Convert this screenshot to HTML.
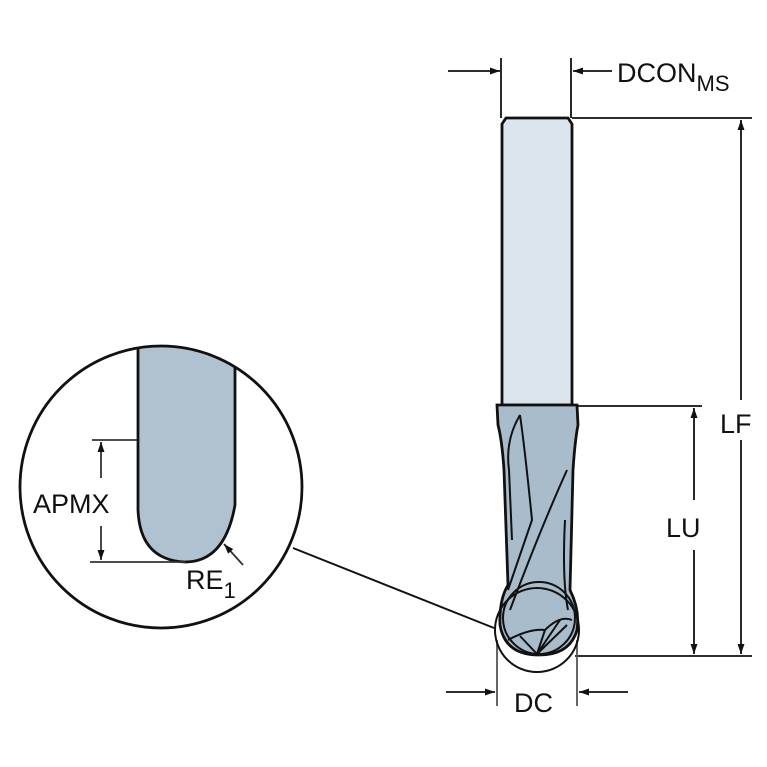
<!DOCTYPE html>
<html><head><style>body{margin:0;background:#fff}svg{display:block}text{font-family:"Liberation Sans",sans-serif;fill:#111}</style></head><body>
<svg width="767" height="767" viewBox="0 0 767 767">
<defs><marker id="a" viewBox="0 0 10 10" refX="10" refY="5" markerWidth="10" markerHeight="10" orient="auto-start-reverse" markerUnits="userSpaceOnUse"><path d="M0,1.5 L10,5 L0,8.5z" fill="#111"/></marker>
<clipPath id="c"><circle cx="161" cy="487" r="141"/></clipPath></defs>
<g stroke="#111" stroke-width="1.8" fill="none">
<line x1="501" y1="58" x2="501" y2="118"/><line x1="571" y1="58" x2="571" y2="118"/>
<line x1="448" y1="71" x2="500" y2="71" marker-end="url(#a)"/>
<line x1="612" y1="71" x2="573" y2="71" marker-end="url(#a)"/>
<line x1="572" y1="118" x2="752" y2="118"/>
<line x1="578" y1="406" x2="702" y2="406"/>
<line x1="575" y1="656" x2="752" y2="656"/>
<line x1="741" y1="400" x2="741" y2="120" marker-end="url(#a)"/>
<line x1="741" y1="440" x2="741" y2="654" marker-end="url(#a)"/>
<line x1="694" y1="500" x2="694" y2="408" marker-end="url(#a)"/>
<line x1="694" y1="550" x2="694" y2="654" marker-end="url(#a)"/>
<line x1="497" y1="640" x2="497" y2="706" stroke="#555"/><line x1="577" y1="640" x2="577" y2="706" stroke="#555"/>
<line x1="446" y1="692" x2="495" y2="692" marker-end="url(#a)"/>
<line x1="628" y1="692" x2="579" y2="692" marker-end="url(#a)"/>
</g>
<path d="M502,124 L506,118 L568,118 L572,124 L572,405 L502,405Z" fill="#dde5ec" stroke="#111" stroke-width="2.8"/>
<path d="M497,405 L577,405 L578,425 Q575,440 573,470 L570,590 Q580,610 577,630 Q570,655 539,655 Q505,655 500,625 Q499,600 508,585 L504,470 Q502,440 498,425Z" fill="#a9bccb" stroke="#111" stroke-width="2.8"/>
<g stroke="#111" stroke-width="2" fill="none">
<path d="M520,415 Q505,440 509,470 L512,540"/>
<path d="M520,415 Q525,450 532,520 L508,590"/>
<path d="M567,470 Q540,530 510,610"/>
<path d="M565,520 Q562,580 568,610"/>
<circle cx="539" cy="618" r="36"/>
<path d="M508,640 Q530,628 545,630 Q560,615 572,620"/>
<path d="M520,636 L537,654 L545,630 M537,654 L560,620 M537,654 L567,625"/>
<circle cx="537" cy="630" r="42"/>
<line x1="494" y1="628" x2="293" y2="548"/>
</g>
<path clip-path="url(#c)" d="M138,330 L138,510 Q140,560 185,562 Q225,562 235,505 L235,330Z" fill="#b0c2d0" stroke="#111" stroke-width="2.8"/>
<circle cx="161" cy="487" r="141" fill="none" stroke="#111" stroke-width="2.8"/>
<g stroke="#333" stroke-width="1.8" fill="none">
<line x1="92" y1="440" x2="137" y2="440"/><line x1="90" y1="562" x2="185" y2="562"/>
<line x1="101" y1="478" x2="101" y2="442" marker-end="url(#a)"/>
<line x1="101" y1="526" x2="101" y2="560" marker-end="url(#a)"/>
<line x1="243" y1="565" x2="224" y2="544" marker-end="url(#a)"/>
</g>
<text x="33" y="513" font-size="27">APMX</text>
<text x="186" y="589" font-size="27">RE<tspan font-size="22" dy="9">1</tspan></text>
<text x="617" y="82" font-size="27">DCON<tspan font-size="22" dy="9">MS</tspan></text>
<text x="720" y="433" font-size="27">LF</text>
<text x="666" y="537" font-size="27">LU</text>
<text x="514" y="712" font-size="27">DC</text>
</svg>
</body></html>
